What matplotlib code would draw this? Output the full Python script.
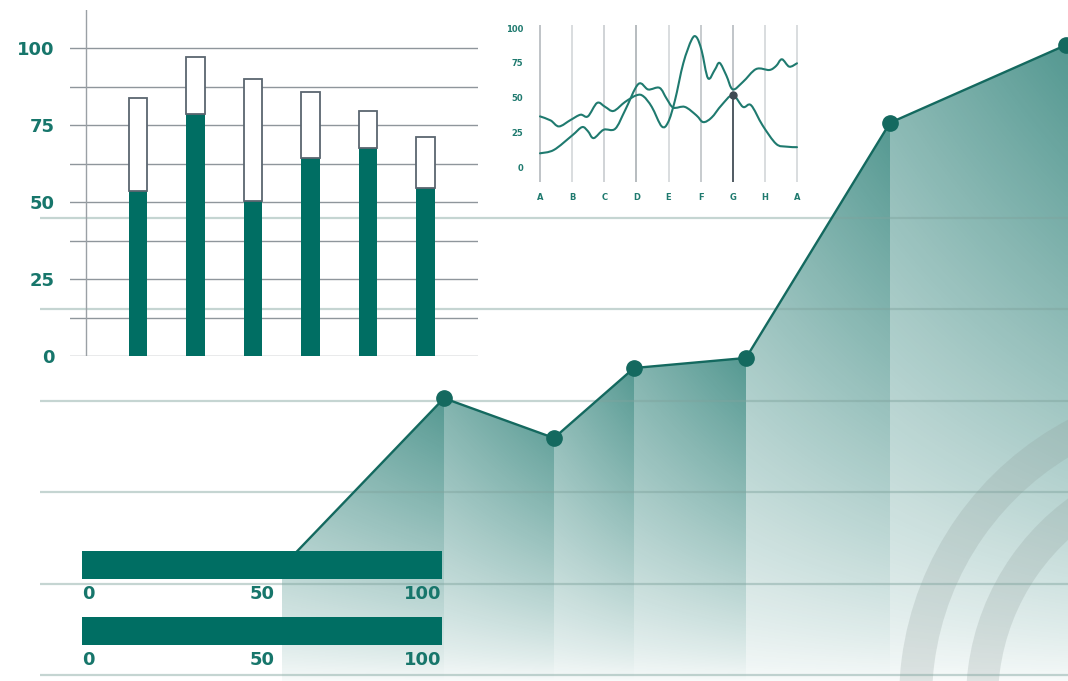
import numpy as np
import matplotlib
matplotlib.use('Agg')
import matplotlib.pyplot as plt
from matplotlib.patches import Wedge, PathPatch
from matplotlib.path import Path

W, H, DPI = 1068, 681, 100

# ---------------- data ----------------
bar_positions = [0, 1, 2, 3, 4, 5]
bar_filled = [53.6, 78.5, 50.3, 64.2, 67.4, 54.4]
bar_total = [83.7, 97.0, 90.0, 85.8, 79.7, 71.2]
bar_ticks = [0, 25, 50, 75, 100]
bar_grid = [0, 12.5, 25, 37.5, 50, 62.5, 75, 87.5, 100]

line_labels = ['A', 'B', 'C', 'D', 'E', 'F', 'G', 'H', 'A']
line_ticks = [0, 25, 50, 75, 100]
s1_x = [0, 0.33, 0.59, 0.95, 1.26, 1.49, 1.78, 2.03, 2.29, 2.65, 3.01, 3.22, 3.48,
        3.79, 3.99, 4.2, 4.46, 4.72, 4.87, 5.03, 5.23, 5.44, 5.59, 5.8, 6.0, 6.32,
        6.73, 7.14, 7.35, 7.53, 7.76, 8.0]
s1_y = [36.6, 33.7, 29.4, 34.0, 37.8, 36.6, 46.3, 43.4, 40.5, 47.0, 51.8, 51.0, 43.4,
        29.4, 32.5, 48.0, 74.7, 91.6, 93.5, 84.0, 64.0, 70.0, 75.0, 66.0, 56.0, 61.4,
        70.6, 69.9, 72.8, 77.6, 72.3, 74.7]
s2_x = [0, 0.43, 1.0, 1.31, 1.49, 1.67, 1.98, 2.34, 2.65, 3.06, 3.37, 3.72, 3.94,
        4.15, 4.51, 4.87, 5.08, 5.34, 5.65, 6.0, 6.32, 6.57, 6.93, 7.35, 7.66, 8.0]
s2_y = [10.1, 12.5, 22.9, 28.9, 26.0, 21.0, 27.0, 27.7, 41.0, 59.8, 55.9, 57.1, 49.4,
        42.9, 43.4, 37.3, 32.5, 35.7, 44.6, 51.8, 43.4, 44.6, 30.1, 16.9, 14.9, 14.5]
highlight_x = 6
highlight_y = 51.8

main_x = [2.82, 4.44, 5.54, 6.34, 7.46, 8.90, 10.66]
main_y = [23.6, 60.5, 51.8, 67.1, 69.3, 120.7, 137.7]
main_grid = [0, 20, 40, 60, 80, 100]

progress_values = [100, 100]
progress_rows = [0, 1]
progress_ticks = [0, 50, 100]

# ---------------- style ----------------
TEAL = '#006e63'
LINE = '#14695f'
TXT = '#17766b'
FONT = 'DejaVu Sans'

fig = plt.figure(figsize=(W / DPI, H / DPI), dpi=DPI)


def px_axes(x0, y0, x1, y1):
    return fig.add_axes([x0 / W, 1 - y1 / H, (x1 - x0) / W, (y1 - y0) / H])


def smooth_path(xs, ys):
    """Catmull-Rom through the points, drawn as cubic Bezier segments."""
    p = np.column_stack([xs, ys]).astype(float)
    pts = [p[0]]
    codes = [Path.MOVETO]
    n = len(p)
    for i in range(n - 1):
        p0 = p[i - 1] if i > 0 else p[i]
        p1, p2 = p[i], p[i + 1]
        p3 = p[i + 2] if i + 2 < n else p[i + 1]
        c1 = p1 + (p2 - p0) / 6
        c2 = p2 - (p3 - p1) / 6
        pts += [c1, c2, p2]
        codes += [Path.CURVE4] * 3
    return Path(np.array(pts), codes)


# ---------------- main area chart ----------------
ax = fig.add_axes([0, 0, 1, 1])
ytop, ybot = 675 / 4.575, -6 / 4.575
ax.set_xlim(0, W / DPI)
ax.set_ylim(ybot, ytop)
ax.axis('off')

nx, ny = W, H
X = (np.arange(nx) + 0.5) / DPI
Y = np.linspace(ytop, ybot, ny)
mx = np.array(main_x)
my = np.array(main_y)
yl = np.interp(X, mx, my)
mask = (Y[:, None] <= yl[None, :]) & (X[None, :] >= mx[0])
seg = np.clip(np.searchsorted(mx, X) - 1, 0, len(mx) - 2)
xl, xr = mx[seg], mx[seg + 1]
btop = np.maximum(my[seg], my[seg + 1])
u = np.clip((X - xl) / (xr - xl), 0, 1)
v = np.clip((btop[None, :] - Y[:, None]) / (btop[None, :] - ybot), 0, 1)
alpha = 0.03 + 0.68 * (1 - 0.28 * (1 - u[None, :])) * (1 - v) ** 0.75
rgba = np.zeros((ny, nx, 4))
rgba[..., 0] = 14 / 255
rgba[..., 1] = 110 / 255
rgba[..., 2] = 100 / 255
rgba[..., 3] = alpha * mask
ax.imshow(rgba, extent=(0, W / DPI, ybot, ytop), aspect='auto',
          interpolation='bilinear', origin='upper', zorder=1)

for r, w in [(3.17, 0.33), (2.50, 0.32)]:
    ax.add_patch(Wedge((12.16, -0.19), r, 90, 200, width=w,
                       transform=fig.dpi_scale_trans, facecolor='#8f9e9b',
                       alpha=0.24, lw=0, zorder=2))

ax.hlines(main_grid, 0.40, W / DPI, color='#7fa39d', alpha=0.45, lw=1.6, zorder=3)
ax.plot(main_x, main_y, color=LINE, lw=1.7, zorder=4)
ax.plot(main_x[1:], main_y[1:], 'o', ms=11, color=LINE, zorder=5)

# ---------------- top-left bar chart ----------------
bx = px_axes(70, 10, 478, 356)
bx.patch.set_alpha(0)
bx.set_xlim((70 - 138) / 57.5, (478 - 138) / 57.5)
bx.set_ylim(0, 112.34)
for s in bx.spines.values():
    s.set_visible(False)
for g in bar_grid:
    bx.axhline(g, color='#8f969c', lw=1.0, zorder=1)
bx.axvline((86 - 138) / 57.5, color='#9aa0a5', lw=1.0, zorder=1)
bx.bar(bar_positions, bar_filled, width=0.33, color=TEAL, zorder=3)
bx.bar(bar_positions, np.array(bar_total) - np.array(bar_filled), bottom=bar_filled,
       width=0.33, facecolor='white', edgecolor='#5b6670', lw=1.3, zorder=3)
bx.set_xticks([])
bx.set_yticks(bar_ticks)
bx.set_yticklabels([str(v) for v in bar_ticks], fontsize=13, fontweight='bold',
                   color=TXT, family=FONT)
bx.tick_params(axis='y', length=0, pad=11)

# ---------------- small line chart ----------------
lx = px_axes(536.8, 25, 800.2, 182)
lx.patch.set_alpha(0)
lx.set_xlim(-0.1, 8.1)
lx.set_ylim(-10.5, 102.2)
for s in lx.spines.values():
    s.set_visible(False)
vcols = ['#aeb3b8', '#cfd3d6', '#c4c8cc', '#a3a9ae', '#cfd3d6', '#b8bdc1',
         '#b0b5ba', '#cfd3d6', '#d0d3d6']
for i, c in enumerate(vcols):
    lx.axvline(i, color=c, lw=1.1, zorder=1)
lx.plot([highlight_x, highlight_x], [-10.5, highlight_y], color='#3f4a52', lw=1.2,
        zorder=2)
for xs, ys in [(s1_x, s1_y), (s2_x, s2_y)]:
    lx.add_patch(PathPatch(smooth_path(xs, ys), facecolor='none',
                           edgecolor='#1f7a6f', lw=1.5, zorder=3,
                           joinstyle='round', capstyle='round'))
lx.plot([highlight_x], [highlight_y], 'o', ms=5, color='#3f4a52', zorder=4)
lx.set_xticks(range(len(line_labels)))
lx.set_xticklabels(line_labels, fontsize=6, fontweight='bold', color='#1f7a6f',
                   family=FONT)
lx.set_yticks(line_ticks)
lx.set_yticklabels([str(v) for v in line_ticks], fontsize=6, fontweight='bold',
                   color='#1f7a6f', family=FONT)
lx.tick_params(axis='y', length=0, pad=10)
lx.tick_params(axis='x', length=0, pad=8)

# ---------------- progress bars ----------------
hx = px_axes(81.7, 531.9, 441.7, 670.5)
hx.patch.set_alpha(0)
hx.set_xlim(0, 100)
hx.set_ylim(1.6, -0.5)
hx.axis('off')
hx.barh(progress_rows, progress_values, height=0.43, color=TEAL, zorder=3)
for r in progress_rows:
    for v in progress_ticks:
        ha = 'left' if v == progress_ticks[0] else ('right' if v == progress_ticks[-1] else 'center')
        hx.text(v, r + 0.44, str(v), ha=ha, va='center', fontsize=13,
                fontweight='bold', color=TXT, family=FONT)

fig.savefig('out.png', dpi=DPI)
